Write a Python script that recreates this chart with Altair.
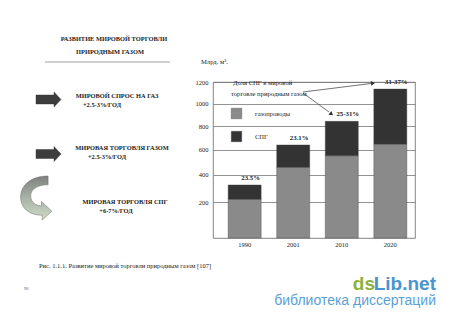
import altair as alt
import pandas as pd

# ---- data ----
years = ["1990", "2001", "2010", "2020"]
pipelines = [219, 457, 550, 646]
lng = [103, 182, 292, 488]
share_labels = ["23.5%", "23.1%", "25-31%", "31-37%"]
kinds = ["газопроводы", "СПГ"]
y_ticks = [200, 400, 600, 800, 1000, 1200]

rows = []
for i, yr in enumerate(years):
    rows.append({"year": yr, "kind": kinds[0], "value": pipelines[i], "ord": 0})
    rows.append({"year": yr, "kind": kinds[1], "value": lng[i], "ord": 1})
df = pd.DataFrame(rows)
totals = pd.DataFrame({"year": years,
                       "total": [p + l for p, l in zip(pipelines, lng)],
                       "label": share_labels})

# ---- page decorations (pixel positions relative to plot origin) ----
bold_text = ["РАЗВИТИЕ МИРОВОЙ ТОРГОВЛИ", "ПРИРОДНЫМ ГАЗОМ",
             "МИРОВОЙ  СПРОС  НА ГАЗ", "+2.5-3%/ГОД",
             "МИРОВАЯ ТОРГОВЛЯ ГАЗОМ", "+2.5-3%/ГОД",
             "МИРОВАЯ ТОРГОВЛЯ СПГ", "+6-7%/ГОД"]
bold_x = [-99, -103, -96, -111, -91, -106, -88, -97]
bold_y = [-43, -30, 14, 23, 66, 75, 120, 129]

reg_text = ["Млрд. м³.", "Доля  СПГ в мировой", "торговле природным газом"]
reg_x = [-12, 20, 18]
reg_y = [-20, 1, 12]

caption = "Рис. 1.1.1. Развитие мировой торговли природным газом [107]"

FONT = "Liberation Serif"
W, H = 202, 156

def px(df_):
    return pd.DataFrame(df_)

# bars
xscale = alt.Scale(paddingInner=0.32, paddingOuter=0.24, align=0.65)
yscale = alt.Scale(type="pow", exponent=0.82, domain=[0, 1200], nice=False)
x_axis = alt.Axis(title=None, labelAngle=0, ticks=False, domain=False,
                  labelPadding=3, labelFont=FONT,
                  labelFontSize=6.5, labelColor="#222")
y_axis = alt.Axis(title=None, values=y_ticks, ticks=False, domain=False,
                  labelOverlap=False, format="d",
                  labelPadding=5, labelFont=FONT, labelFontSize=6.5,
                  labelColor="#222", gridColor="#777", gridWidth=0.8)

bars = alt.Chart(df).mark_bar(stroke="#444", strokeWidth=0.4).encode(
    x=alt.X("year:N", scale=xscale, sort=years, axis=x_axis),
    y=alt.Y("value:Q", stack="zero", scale=yscale, axis=y_axis),
    color=alt.Color("kind:N",
                    scale=alt.Scale(domain=kinds, range=["#8a8a8a", "#333333"]),
                    legend=alt.Legend(title=None, orient="none", legendX=18,
                                      legendY=26, symbolType="square",
                                      symbolSize=110, symbolStrokeWidth=0.4,
                                      symbolStrokeColor="#444",
                                      labelFont=FONT, labelFontSize=6.5,
                                      labelColor="#222", labelOffset=13,
                                      rowPadding=10, padding=0)),
    order=alt.Order("ord:Q"),
)

labels = alt.Chart(totals).mark_text(
    font=FONT, fontSize=6.8, fontWeight="bold", dx=6, dy=-7, color="#222"
).encode(x=alt.X("year:N", sort=years, scale=xscale, axis=x_axis),
         y=alt.Y("total:Q", scale=yscale, axis=y_axis), text="label:N")

NS = dict(scale=None, axis=None)

bold_df = px({"t": bold_text, "x": bold_x, "y": bold_y})
bold_layer = alt.Chart(bold_df).mark_text(
    font=FONT, fontSize=6.4, fontWeight="bold", align="center",
    baseline="middle", color="#222"
).encode(x=alt.X("x:Q", **NS), y=alt.Y("y:Q", **NS), text="t:N")

reg_df = px({"t": reg_text, "x": reg_x, "y": reg_y})
reg_layer = alt.Chart(reg_df).mark_text(
    font=FONT, fontSize=6.6, align="left", baseline="middle", color="#222"
).encode(x=alt.X("x:Q", **NS), y=alt.Y("y:Q", **NS), text="t:N")

cap_layer = alt.Chart(px({"t": [caption], "x": [-174], "y": [184]})).mark_text(
    font=FONT, fontSize=6.5, align="left", baseline="middle", color="#222"
).encode(x=alt.X("x:Q", **NS), y=alt.Y("y:Q", **NS), text="t:N")

page_layer = alt.Chart(px({"t": ["96"], "x": [-189], "y": [207]})).mark_text(
    font=FONT, fontSize=4.5, align="left", baseline="middle", color="#555"
).encode(x=alt.X("x:Q", **NS), y=alt.Y("y:Q", **NS), text="t:N")

# underline under the title
uline = alt.Chart(px({"x": [-168], "x2": [-43], "y": [-20]})).mark_rule(
    color="#888", strokeWidth=0.8
).encode(x=alt.X("x:Q", **NS), x2="x2:Q", y=alt.Y("y:Q", **NS))

# block arrows
ARROW = "M-1,-0.36L0.44,-0.36L0.44,-0.6L1,0L0.44,0.6L0.44,0.36L-1,0.36Z"
block = alt.Chart(px({"x": [-164.5, -164.5], "y": [17.5, 72]})).mark_point(
    shape=ARROW, size=625, filled=True, opacity=1, color="#3d3d3d",
    stroke="#2a2a2a", strokeWidth=0.4
).encode(x=alt.X("x:Q", **NS), y=alt.Y("y:Q", **NS))

CURVED = ("M0.55,-1L0.55,-0.6C-0.05,-0.6 -0.35,-0.3 -0.2,0.1"
          "Q-0.05,0.36 0.25,0.36L0.25,0.16L0.72,0.6L0.28,1.0L0.28,0.78"
          "C-0.3,0.8 -0.7,0.45 -0.7,-0.05C-0.68,-0.62 -0.2,-1 0.55,-1Z")
curved = alt.Chart(px({"x": [-177], "y": [116]})).mark_point(
    shape=CURVED, size=1936, filled=True, opacity=1,
    fill=alt.Gradient(gradient="linear", x1=0, y1=0, x2=0, y2=1,
                      stops=[alt.GradientStop(color="#7f827f", offset=0),
                             alt.GradientStop(color="#a9b2a6", offset=0.5),
                             alt.GradientStop(color="#cfdcc6", offset=1)]),
    stroke="#6a6a6a", strokeWidth=0.5
).encode(x=alt.X("x:Q", **NS), y=alt.Y("y:Q", **NS))

# annotation arrows in the plot
seg = px({"x": [90, 90], "y": [10, 11], "x2": [158, 116], "y2": [1.5, 30]})
seg_layer = alt.Chart(seg).mark_rule(color="#333", strokeWidth=0.7).encode(
    x=alt.X("x:Q", **NS), y=alt.Y("y:Q", **NS), x2="x2:Q", y2="y2:Q")
heads = px({"x": [160, 118.5], "y": [1.2, 32], "a": [353, 37]})
head_layer = alt.Chart(heads).mark_point(
    shape="triangle-right", size=22, filled=True, opacity=1, color="#333"
).encode(x=alt.X("x:Q", **NS), y=alt.Y("y:Q", **NS), angle=alt.Angle("a:Q", scale=None))

# watermark
wm1 = alt.Chart(px({"t": ["Lib.net"], "x": [223], "y": [208]})).mark_text(
    font="Liberation Sans", fontSize=19, fontWeight="bold", align="right",
    baseline="alphabetic", color="#4a94cf"
).encode(x=alt.X("x:Q", **NS), y=alt.Y("y:Q", **NS), text="t:N")
wm2 = alt.Chart(px({"t": ["ds"], "x": [162], "y": [208]})).mark_text(
    font="Liberation Sans", fontSize=19, fontWeight="bold", align="right",
    baseline="alphabetic", color="#8bb23f"
).encode(x=alt.X("x:Q", **NS), y=alt.Y("y:Q", **NS), text="t:N")
wm3 = alt.Chart(px({"t": ["библиотека диссертаций"], "x": [223], "y": [219]})).mark_text(
    font="Liberation Sans", fontSize=14, align="right", baseline="middle",
    color="#5a9fd6"
).encode(x=alt.X("x:Q", **NS), y=alt.Y("y:Q", **NS), text="t:N")

chart = alt.layer(
    bars, labels, bold_layer, reg_layer, cap_layer, page_layer, uline,
    block, curved, seg_layer, head_layer, wm1, wm2, wm3
).properties(
    width=W, height=H,
    autosize=alt.AutoSizeParams(type="none"),
    padding={"left": 213, "top": 82, "right": 35, "bottom": 84},
    background="white",
).configure_view(stroke="#666", strokeWidth=0.8)

chart.save("out.html", embed_options={"renderer": "svg", "actions": False})
